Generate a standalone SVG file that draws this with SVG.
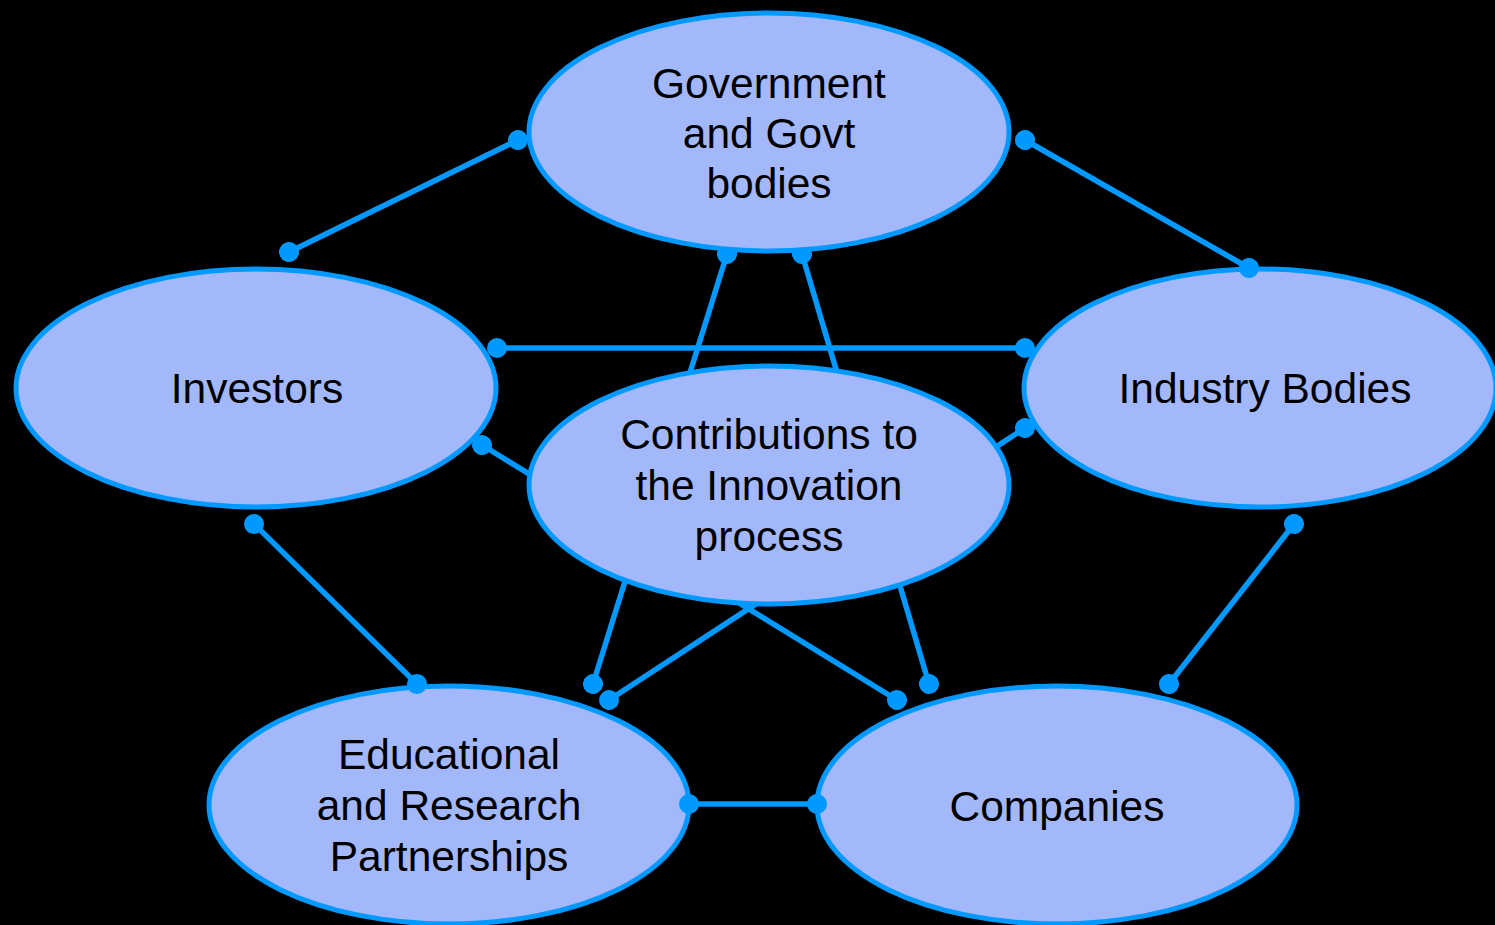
<svg xmlns="http://www.w3.org/2000/svg" width="1495" height="925" viewBox="0 0 1495 925">
  <style>
    .node ellipse { fill: #a2b8fa; stroke: #0099ff; stroke-width: 5; }
    .node text { font-family: "Liberation Sans", Arial, sans-serif; font-size: 42.5px; fill: #000000; text-anchor: middle; }
    .edge { stroke: #0099ff; stroke-width: 5.5; fill: none; marker-start: url(#dot); marker-end: url(#dot); }
  </style>
  <defs>
    <marker id="dot" viewBox="-10 -10 20 20" markerWidth="20" markerHeight="20" markerUnits="userSpaceOnUse" refX="0" refY="0" orient="auto">
      <circle cx="0" cy="0" r="10" fill="#0099ff"/>
    </marker>
  </defs>
  <rect x="0" y="0" width="1495" height="925" fill="#000000"/>

  <g id="node-investors" class="node">
    <ellipse cx="256" cy="388" rx="240" ry="119"/>
    <text x="257" y="403">Investors</text>
  </g>
  <g id="node-industry" class="node">
    <ellipse cx="1260" cy="388" rx="236" ry="119"/>
    <text x="1265" y="403">Industry Bodies</text>
  </g>
  <g id="node-educational" class="node">
    <ellipse cx="449" cy="805" rx="240" ry="119"/>
    <text x="449" y="769">Educational</text>
    <text x="449" y="820">and Research</text>
    <text x="449" y="871">Partnerships</text>
  </g>
  <g id="node-companies" class="node">
    <ellipse cx="1057" cy="805" rx="240" ry="119"/>
    <text x="1057" y="821">Companies</text>
  </g>

  <g id="connectors">
    <line class="edge" x1="518" y1="140" x2="289" y2="252"/>
    <line class="edge" x1="1025" y1="140" x2="1249" y2="268"/>
    <line class="edge" x1="727" y1="254" x2="593" y2="684"/>
    <line class="edge" x1="802" y1="254" x2="929" y2="684"/>
    <line class="edge" x1="497" y1="348" x2="1025" y2="348"/>
    <line class="edge" x1="482" y1="445" x2="897" y2="700"/>
    <line class="edge" x1="1025" y1="428" x2="609" y2="700"/>
    <line class="edge" x1="254" y1="524" x2="417" y2="684"/>
    <line class="edge" x1="1294" y1="524" x2="1169" y2="684"/>
    <line class="edge" x1="689" y1="804" x2="817" y2="804"/>
  </g>

  <g id="node-government" class="node">
    <ellipse cx="769" cy="132" rx="240" ry="119"/>
    <text x="769" y="98">Government</text>
    <text x="769" y="148">and Govt</text>
    <text x="769" y="198">bodies</text>
  </g>
  <g id="node-contributions" class="node">
    <ellipse cx="769" cy="485" rx="240" ry="119"/>
    <text x="769" y="449">Contributions to</text>
    <text x="769" y="500">the Innovation</text>
    <text x="769" y="551">process</text>
  </g>
</svg>
